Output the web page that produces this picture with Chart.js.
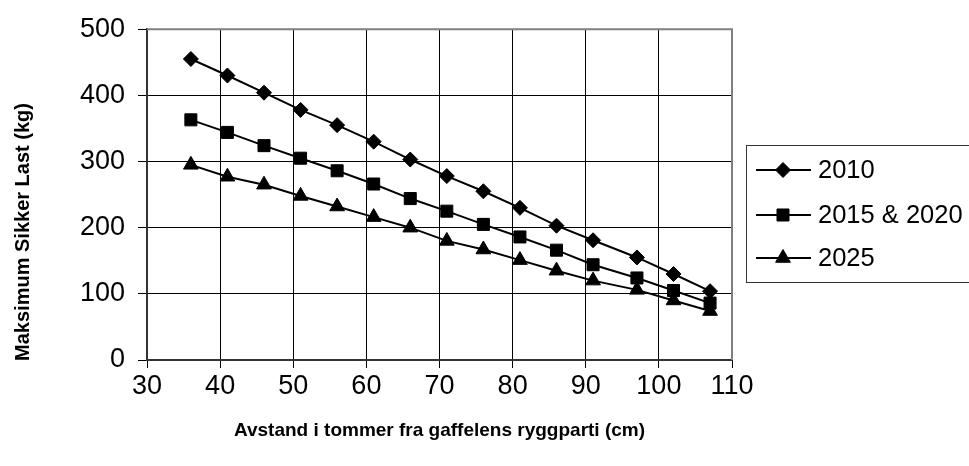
<!DOCTYPE html>
<html>
<head>
<meta charset="utf-8">
<script src="https://cdn.jsdelivr.net/npm/chart.js@4.4.0/dist/chart.umd.min.js"></script>
<style>
html,body{margin:0;padding:0;background:#fff;}
#wrap{width:969px;height:466px;position:relative;}
</style>
</head>
<body>
<div id="wrap"><canvas id="c" width="969" height="466"></canvas></div>
<script>
const distances = [36, 41, 46, 51, 56, 61, 66, 71, 76, 81, 86, 91, 97, 102, 107];
const load2010 = [455, 430, 404, 378, 355, 330, 303, 278, 255, 230, 203, 181, 155, 130, 104];
const load2015 = [363, 344, 324, 305, 286, 266, 244, 225, 205, 186, 166, 144, 124, 105, 86];
const load2025 = [295, 277, 265, 248, 232, 216, 200, 180, 167, 151, 135, 120, 106, 90, 74];
const seriesLabels = ['2010', '2015 & 2020', '2025'];
const seriesStyles = ['rectRot', 'rect', 'triangle'];
const xTicks = [30, 40, 50, 60, 70, 80, 90, 100, 110];
const yTicks = [0, 100, 200, 300, 400, 500];
const xTitle = 'Avstand i tommer fra gaffelens ryggparti (cm)';
const yTitle = 'Maksimum Sikker Last (kg)';

const FONT = "'Liberation Sans', Arial, sans-serif";
const radii = {rectRot: 7.5, rect: 8.5, triangle: 8.5};

function mk(vals, i) {
  return {
    label: seriesLabels[i],
    data: distances.map((x, k) => ({x: x, y: vals[k]})),
    borderColor: '#000',
    backgroundColor: '#000',
    borderWidth: 2,
    pointStyle: seriesStyles[i],
    pointRadius: radii[seriesStyles[i]],
    pointBorderWidth: 1,
    tension: 0
  };
}

const borderPlugin = {
  id: 'plotBorder',
  afterDatasetsDraw(chart) {
    const {ctx, chartArea: a} = chart;
    ctx.save();
    ctx.strokeStyle = '#808080';
    ctx.lineWidth = 2;
    ctx.beginPath();
    ctx.moveTo(a.left, a.top);
    ctx.lineTo(a.right, a.top);
    ctx.lineTo(a.right, a.bottom);
    ctx.stroke();
    ctx.restore();
  }
};

const yTitlePlugin = {
  id: 'yTitle',
  afterDraw(chart) {
    const ctx = chart.ctx;
    ctx.save();
    ctx.translate(23, 232);
    ctx.rotate(-Math.PI / 2);
    ctx.font = 'bold 20px ' + FONT;
    ctx.fillStyle = '#000';
    ctx.textAlign = 'center';
    ctx.textBaseline = 'middle';
    ctx.fillText(yTitle, 0, 0);
    ctx.restore();
  }
};

const legendPlugin = {
  id: 'boxLegend',
  afterDraw(chart) {
    const ctx = chart.ctx;
    const bx = 746, by = 145, bw = 260, bh = 137;
    ctx.save();
    ctx.strokeStyle = '#333';
    ctx.lineWidth = 1;
    ctx.strokeRect(bx + 0.5, by + 0.5, bw, bh);
    const rows = [170, 215, 258];
    chart.data.datasets.forEach((ds, i) => {
      const y = rows[i];
      ctx.strokeStyle = '#000';
      ctx.lineWidth = 2;
      ctx.beginPath();
      ctx.moveTo(756, y);
      ctx.lineTo(811, y);
      ctx.stroke();
      ctx.fillStyle = '#000';
      ctx.lineWidth = 1;
      Chart.helpers.drawPoint(ctx, {pointStyle: ds.pointStyle, radius: ds.pointRadius, rotation: 0, borderWidth: 1}, 783, y);
      ctx.font = '25.5px ' + FONT;
      ctx.textBaseline = 'middle';
      ctx.textAlign = 'left';
      ctx.fillText(ds.label, 818, y + 1);
    });
    ctx.restore();
  }
};

new Chart(document.getElementById('c'), {
  type: 'line',
  data: {datasets: [mk(load2010, 0), mk(load2015, 1), mk(load2025, 2)]},
  options: {
    responsive: false,
    animation: false,
    devicePixelRatio: 1,
    layout: {padding: {left: 0, top: 23, right: 237, bottom: 0}},
    plugins: {legend: {display: false}, tooltip: {enabled: false}},
    scales: {
      x: {
        type: 'linear', min: 30, max: 110,
        afterBuildTicks(s) { s.ticks = xTicks.map(v => ({value: v})); },
        afterFit(s) { s.height = 106; },
        ticks: {color: '#000', font: {family: FONT, size: 27}, padding: 2},
        grid: {color: '#000', lineWidth: 1, tickLength: 8, tickColor: '#000'},
        border: {display: true, color: '#333', width: 2},
        title: {display: true, text: xTitle, color: '#000', font: {family: FONT, size: 19, weight: 'bold'}, padding: {top: 0, bottom: 24}}
      },
      y: {
        type: 'linear', min: 0, max: 500,
        afterBuildTicks(s) { s.ticks = yTicks.map(v => ({value: v})); },
        afterFit(s) { s.width = 147; },
        ticks: {color: '#000', font: {family: FONT, size: 27}, padding: 13},
        grid: {color: '#000', lineWidth: 1, tickLength: 9, tickColor: '#000'},
        border: {display: true, color: '#333', width: 2},
        title: {display: false}
      }
    }
  },
  plugins: [borderPlugin, yTitlePlugin, legendPlugin]
});
</script>
</body>
</html>
